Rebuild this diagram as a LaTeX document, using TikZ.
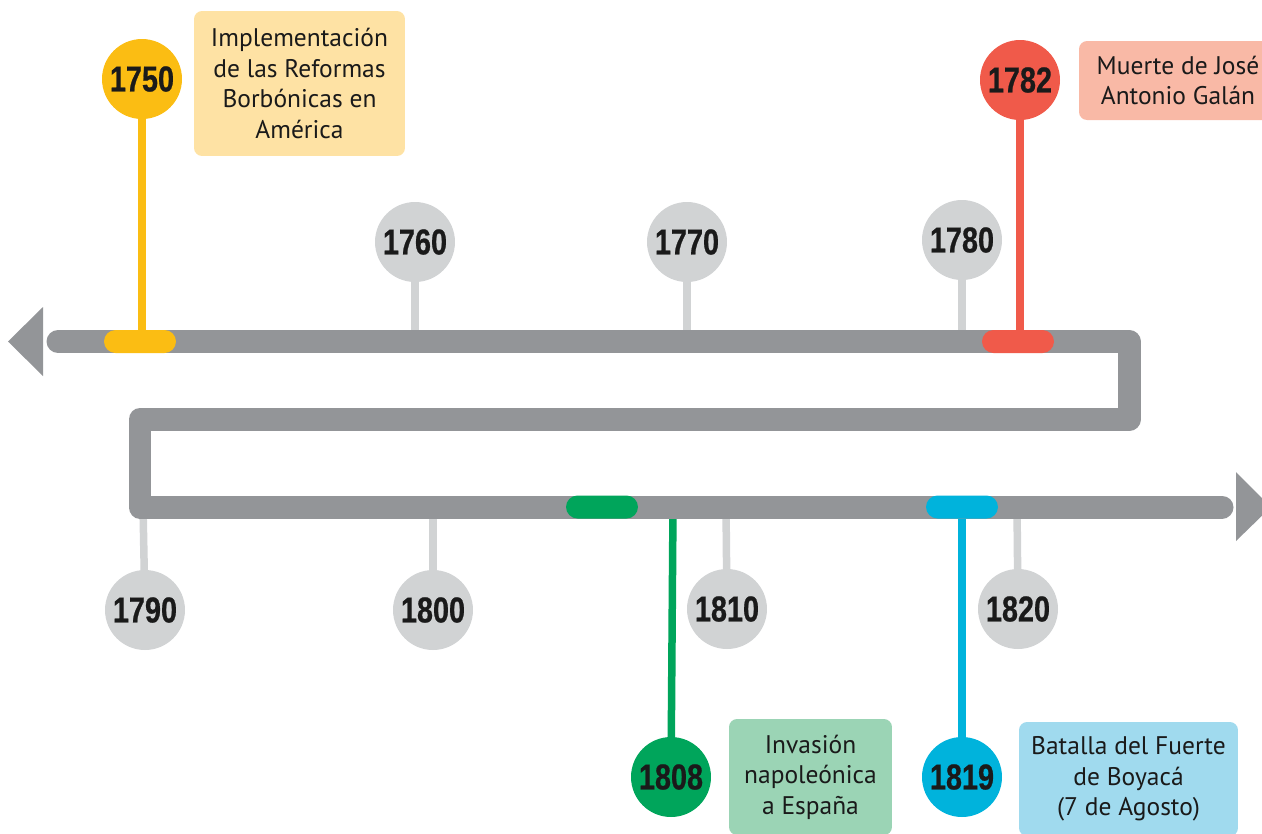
\documentclass[tikz,border=0pt]{standalone}
\usepackage{fontspec}
\setmainfont{PT Sans}
\newfontfamily\yearfont[FakeStretch=0.8, BoldFeatures={FakeBold=0.6}]{Liberation Sans}
\definecolor{lineg}{HTML}{939598}
\definecolor{lightg}{HTML}{D1D3D4}
\definecolor{cyel}{HTML}{FBBD13}
\definecolor{cred}{HTML}{F05A4A}
\definecolor{cgrn}{HTML}{00A55B}
\definecolor{cblu}{HTML}{00B3DC}
\definecolor{byel}{HTML}{FEE2A4}
\definecolor{bred}{HTML}{F9B9A6}
\definecolor{bgrn}{HTML}{9BD4B5}
\definecolor{bblu}{HTML}{A0DAEE}
\definecolor{txt}{HTML}{1A1A1A}
\pgfdeclarelayer{bg}
\pgfdeclarelayer{mid}
\pgfsetlayers{bg,mid,main}
\begin{document}
\begin{tikzpicture}[x=0.02cm,y=-0.02cm,
  yr/.style={circle, minimum size=1.6cm, inner sep=0pt, text=txt,
    font=\yearfont\bfseries\fontsize{20.5}{21}\selectfont},
  pill/.style={rectangle, rounded corners=0.23cm, minimum width=1.44cm,
    minimum height=0.46cm, inner sep=0pt},
  stemline/.style={line width=0.15cm},
  info/.style={rectangle, rounded corners=0.16cm, inner sep=0pt, align=center,
    text=txt, font=\fontsize{14.5}{17.4}\selectfont},
  mainline/.style={draw=lineg, line width=0.46cm, line join=round, line cap=round}
]
\useasboundingbox (0,0) rectangle (1262,833);

% main timeline
\begin{pgfonlayer}{mid}
\coordinate (s) at (58,341.5);
\coordinate (k1) at (1129,341.5);
\coordinate (k2) at (1129,419.5);
\coordinate (k3) at (140,419.5);
\coordinate (k4) at (140,507);
\coordinate (e) at (1222,507);
\draw[mainline] (s) -- (k1) -- (k2) -- (k3) -- (k4) -- (e);
\fill[lineg] (8,341.5) -- (43,307) -- (43,376) -- cycle;
\fill[lineg] (1271,507) -- (1236,472) -- (1236,541) -- cycle;
\end{pgfonlayer}

% coordinates on the line for stems
\coordinate (t1760) at (415,341.5);
\coordinate (t1770) at (687,341.5);
\coordinate (t1780) at (962,341.5);
\coordinate (t1790) at (143,507);
\coordinate (t1800) at (433,507);
\coordinate (t1810) at (726,507);
\coordinate (t1820) at (1017,507);
\coordinate (t1808) at (673,507);

% pills
\node[pill, fill=cyel] (p1750) at (140,341.5) {};
\node[pill, fill=cred] (p1782) at (1018,341.5) {};
\node[pill, fill=cgrn] (p1808) at (602,507) {};
\node[pill, fill=cblu] (p1819) at (962,507) {};

% circles
\node[yr, fill=cyel] (c1750) at (142,79) {1750};
\node[yr, fill=cred] (c1782) at (1020,80) {1782};
\node[yr, fill=lightg] (c1760) at (415,242) {1760};
\node[yr, fill=lightg] (c1770) at (687,242) {1770};
\node[yr, fill=lightg] (c1780) at (962,240) {1780};
\node[yr, fill=lightg] (c1790) at (145,610) {1790};
\node[yr, fill=lightg] (c1800) at (433,610) {1800};
\node[yr, fill=lightg] (c1810) at (727,609) {1810};
\node[yr, fill=lightg] (c1820) at (1018,609) {1820};
\node[yr, fill=cgrn] (c1808) at (671,777) {1808};
\node[yr, fill=cblu] (c1819) at (962,777) {1819};

% stems
\begin{pgfonlayer}{bg}
\draw[stemline, cyel] (c1750.center) -- (c1750.center |- p1750.center);
\draw[stemline, cred] (c1782.center) -- (c1782.center |- p1782.center);
\draw[stemline, lightg] (c1760.center) -- (t1760);
\draw[stemline, lightg] (c1770.center) -- (t1770);
\draw[stemline, lightg] (c1780.center) -- (t1780);
\draw[stemline, lightg] (c1790.center) -- (t1790);
\draw[stemline, lightg] (c1800.center) -- (t1800);
\draw[stemline, lightg] (c1810.center) -- (t1810);
\draw[stemline, lightg] (c1820.center) -- (t1820);
\draw[stemline, cgrn] (c1808.center) -- (t1808);
\draw[stemline, cblu] (c1819.center) -- (c1819.center |- p1819.center);
\end{pgfonlayer}

% info boxes
\node[info, fill=byel, minimum width=4.22cm, minimum height=2.9cm] (b1750) at (299.5,83.5)
  {Implementación\\de las Reformas\\Borbónicas en\\América};
\node[info, fill=bred, minimum width=3.96cm, minimum height=1.58cm] (b1782) at (1178,80.5)
  {Muerte de José\\Antonio Galán};
\node[info, fill=bgrn, minimum width=3.26cm, minimum height=2.32cm] (b1808) at (810.5,777)
  {Invasión\\napoleónica\\a España};
\node[info, fill=bblu, minimum width=4.38cm, minimum height=2.28cm] (b1819) at (1128.5,779)
  {Batalla del Fuerte\\de Boyacá\\(7 de Agosto)};
\end{tikzpicture}
\end{document}
